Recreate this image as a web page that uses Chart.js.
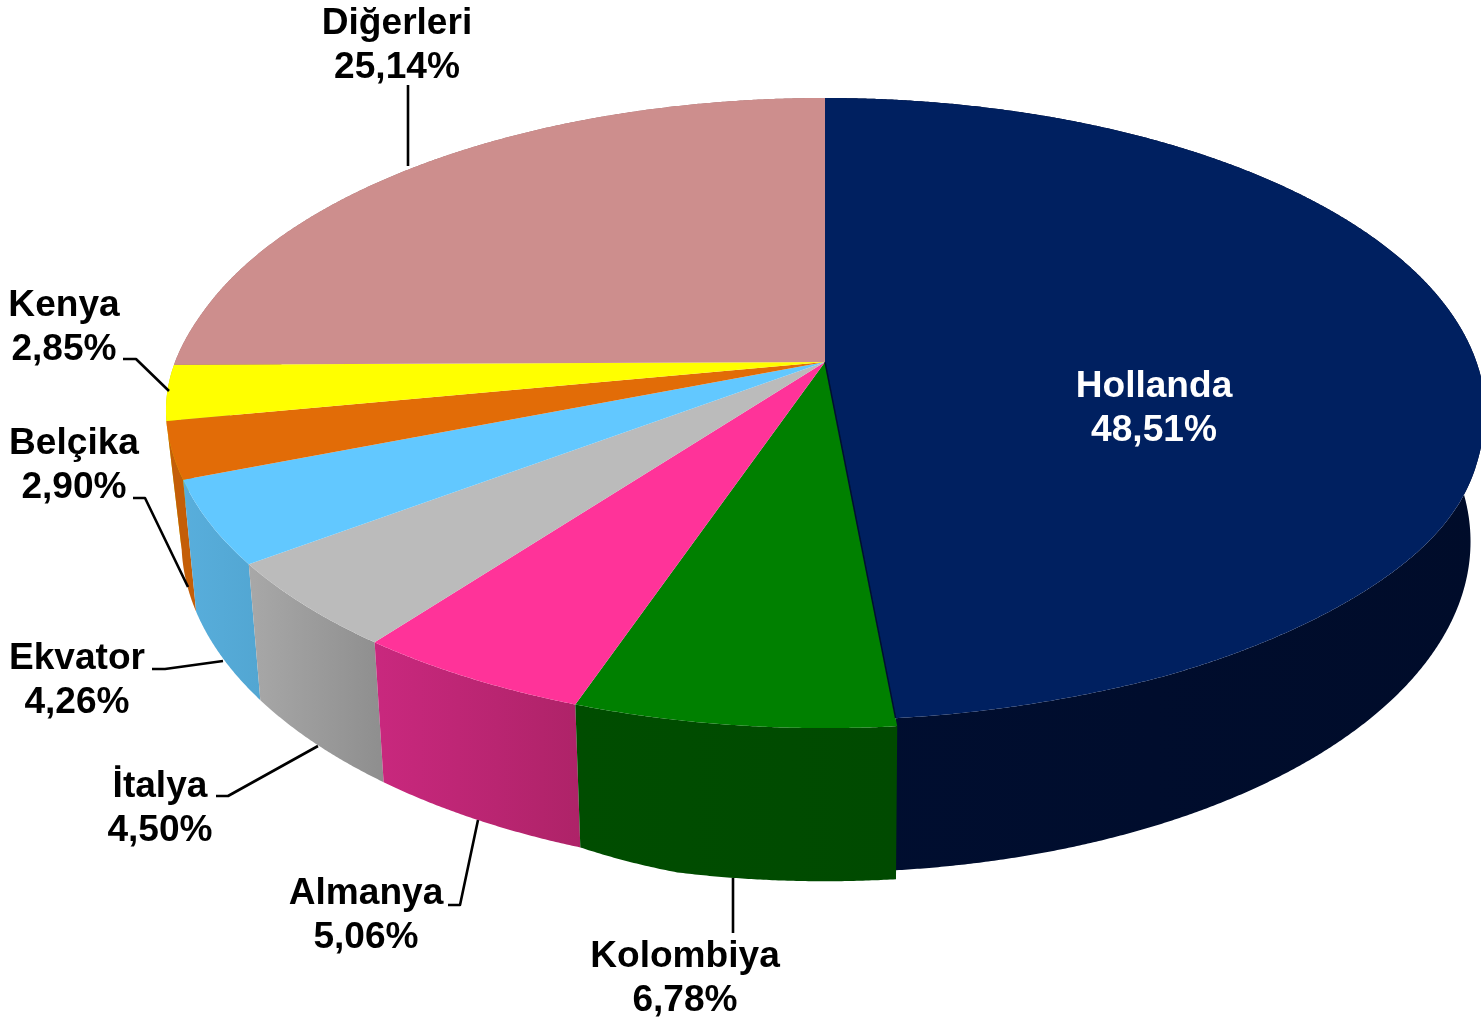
<!DOCTYPE html>
<html>
<head>
<meta charset="utf-8">
<style>html,body{margin:0;padding:0;background:#fff;overflow:hidden}canvas{display:block}</style>
<script src="https://cdn.jsdelivr.net/npm/chart.js@4"></script>
</head>
<body>
<canvas id="c" width="1481" height="1019"></canvas>
<script>
const categories = ["Hollanda","Kolombiya","Almanya","İtalya","Ekvator","Belçika","Kenya","Diğerleri"];
const shares = [48.51,6.78,5.06,4.50,4.26,2.90,2.85,25.14];
const topColors = ["#002060","#008000","#FF3399","#BBBBBB","#62C8FF","#E26C07","#FFFF00","#CD8E8D"];
const wallLeft = ["#000E30","#004D00","#C9287E","#A8A8A8","#58AEDC","#C45E08","#C8C800","#A07070"];
const wallRight = ["#000C2A","#004A00","#AE2368","#8E8E8E","#52A6D2","#C45E08","#C8C800","#A07070"];
const labelColors = ["#FFFFFF","#000","#000","#000","#000","#000","#000","#000"];
const labelAnchors = [[1154,397],[685,967],[366,904],[160,797],[77,669],[74,454],[64,316],[397,34]];
const leaders = [null,[[733,878],[733,933]],[[448,905],[460,905],[478,820]],[[216,796],[228,796],[318,746]],
  [[152,669],[165,669],[223,661]],[[133,498],[145,498],[188,587]],[[123,359],[136,359],[169,391]],[[408,85],[408,166]]];

const CX=825, CY=362, P=0.162, R=648, K=306.8, CY2=488, K2=322;
function uv(a){ const th=a+Math.PI/2; return {u:Math.sin(th), v:-Math.cos(th)}; }
function bump(x){ return Math.abs(x)>=1?0:Math.pow(1-x*x,2); }
function topPt(a,i){
  const {u,v}=uv(a), w=1-P*v;
  const k=(i===0&&v>0)?300:K;
  let r=R;
  if(i===0){
    r=651.5+5*bump((v-0.55)/0.3);
    const t=Math.min(1,Math.max(0,(v-0.9)/0.09));
    r+=(633.6-r)*t;
  } else r+=2.5*bump((v-0.1)/0.3);
  return [CX+r*u/w, CY+k*v/w];
}
function botPt(a,i){
  const {u,v}=uv(a), w=1-P*v;
  const r=u>0?637:635;
  let y=CY2+K2*v/w;
  if(i===1){ const t=Math.min(1,Math.max(0,(v/w-1.116)/0.05)); y+=9*t; }
  return [CX+r*u/w, y];
}
const pie3d = {
  id:'pie3d',
  beforeDatasetDraw(chart,args){
    const ctx=chart.ctx, arcs=chart.getDatasetMeta(0).data;
    const steps=a=>{const n=Math.max(4,Math.ceil((a.endAngle-a.startAngle)/0.004));const out=[];for(let s=0;s<=n;s++)out.push(a.startAngle+(a.endAngle-a.startAngle)*s/n);return out;};
    const order=arcs.map((a,i)=>i).sort((x,y)=>uv((arcs[x].startAngle+arcs[x].endAngle)/2).v-uv((arcs[y].startAngle+arcs[y].endAngle)/2).v);
    // side walls, far to near
    order.forEach(i=>{
      const a=arcs[i], ang=steps(a);
      const tops=ang.map(t=>topPt(t,i)), bots=ang.map(t=>botPt(t,i));
      const xs=tops.concat(bots).map(p=>p[0]);
      const g=ctx.createLinearGradient(Math.min(...xs),0,Math.max(...xs),0);
      g.addColorStop(0,wallLeft[i]); g.addColorStop(1,wallRight[i]);
      ctx.beginPath();
      tops.forEach((p,n)=>n?ctx.lineTo(p[0],p[1]):ctx.moveTo(p[0],p[1]));
      bots.reverse().forEach(p=>ctx.lineTo(p[0],p[1]));
      ctx.closePath();
      ctx.fillStyle=g; ctx.fill();
    });
    // top faces
    arcs.forEach((a,i)=>{
      ctx.beginPath(); ctx.moveTo(CX,CY);
      steps(a).forEach(t=>{const p=topPt(t,i);ctx.lineTo(p[0],p[1]);});
      ctx.closePath();
      ctx.fillStyle=a.options.backgroundColor; ctx.fill();
    });
    // dark seam between the first slice and the next
    const e=topPt(arcs[0].endAngle,0);
    ctx.beginPath(); ctx.moveTo(CX,CY); ctx.lineTo(e[0],e[1]);
    ctx.strokeStyle=wallLeft[0]; ctx.lineWidth=1.5; ctx.stroke();
    return false;
  },
  afterDraw(chart){
    const ctx=chart.ctx;
    ctx.save();
    ctx.strokeStyle="#000"; ctx.lineWidth=2.6; ctx.lineJoin="round";
    leaders.forEach(l=>{ if(!l)return; ctx.beginPath(); l.forEach((p,n)=>n?ctx.lineTo(p[0],p[1]):ctx.moveTo(p[0],p[1])); ctx.stroke(); });
    ctx.font='bold 37.1px "Liberation Sans", Arial, sans-serif';
    ctx.textAlign="center"; ctx.textBaseline="alphabetic";
    categories.forEach((name,i)=>{
      const [x,y]=labelAnchors[i];
      ctx.fillStyle=labelColors[i];
      ctx.fillText(name,x,y);
      ctx.fillText(shares[i].toFixed(2).replace('.',',')+'%',x,y+44);
    });
    ctx.restore();
  }
};
new Chart(document.getElementById('c'),{
  type:'pie',
  data:{labels:categories,datasets:[{data:shares,backgroundColor:topColors,borderWidth:0}]},
  options:{responsive:false,animation:false,events:[],
    plugins:{legend:{display:false},tooltip:{enabled:false}}},
  plugins:[pie3d]
});
</script>
</body>
</html>
